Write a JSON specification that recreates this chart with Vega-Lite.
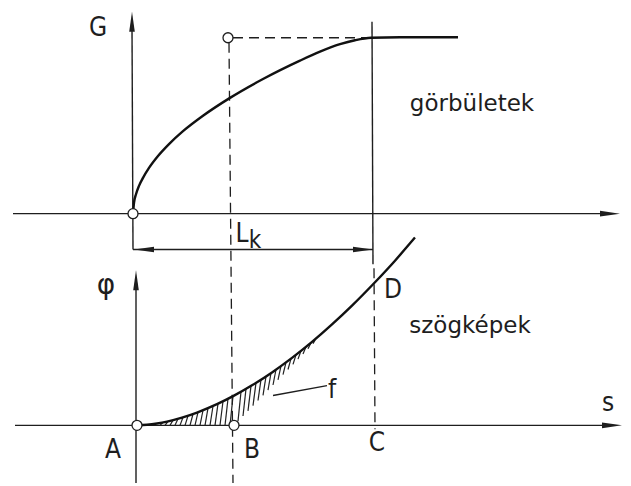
{
  "$schema": "https://vega.github.io/schema/vega-lite/v6.json",
  "autosize": {"type": "fit", "contains": "padding"},
  "width": 631,
  "height": 486,
  "padding": 0,
  "background": "#ffffff",
  "config": {"view": {"stroke": null}},
  "datasets": {
    "axes": [
      {"seg": "G-s", "o": 0, "x": 13, "y": 215}, {"seg": "G-s", "o": 1, "x": 604, "y": 215},
      {"seg": "G", "o": 0, "x": 132, "y": 28}, {"seg": "G", "o": 1, "x": 133, "y": 251},
      {"seg": "phi-s", "o": 0, "x": 15, "y": 428}, {"seg": "phi-s", "o": 1, "x": 606, "y": 428},
      {"seg": "phi", "o": 0, "x": 136, "y": 288}, {"seg": "phi", "o": 1, "x": 136, "y": 486},
      {"seg": "C-top", "o": 0, "x": 372, "y": 22}, {"seg": "C-top", "o": 1, "x": 373, "y": 266},
      {"seg": "Lk", "o": 0, "x": 133, "y": 251}, {"seg": "Lk", "o": 1, "x": 373, "y": 251},
      {"seg": "f-leader", "o": 0, "x": 273, "y": 398}, {"seg": "f-leader", "o": 1, "x": 327, "y": 388}
    ],
    "curves": [
      {"seg": "G(s)", "o": 0, "x": 133, "y": 215},
      {"seg": "G(s)", "o": 1, "x": 134, "y": 204},
      {"seg": "G(s)", "o": 2, "x": 136, "y": 195.5},
      {"seg": "G(s)", "o": 3, "x": 139, "y": 187},
      {"seg": "G(s)", "o": 4, "x": 143, "y": 179},
      {"seg": "G(s)", "o": 5, "x": 149, "y": 169},
      {"seg": "G(s)", "o": 6, "x": 158, "y": 157},
      {"seg": "G(s)", "o": 7, "x": 169, "y": 145},
      {"seg": "G(s)", "o": 8, "x": 183, "y": 132},
      {"seg": "G(s)", "o": 9, "x": 203, "y": 116.5},
      {"seg": "G(s)", "o": 10, "x": 230, "y": 98.5},
      {"seg": "G(s)", "o": 11, "x": 263, "y": 79.5},
      {"seg": "G(s)", "o": 12, "x": 300, "y": 61},
      {"seg": "G(s)", "o": 13, "x": 320, "y": 52},
      {"seg": "G(s)", "o": 14, "x": 340, "y": 44.5},
      {"seg": "G(s)", "o": 15, "x": 355, "y": 40.5},
      {"seg": "G(s)", "o": 16, "x": 371, "y": 38},
      {"seg": "G(s)", "o": 17, "x": 400, "y": 37.5},
      {"seg": "G(s)", "o": 18, "x": 458, "y": 37.5},
      {"seg": "phi(s)", "o": 0, "x": 137, "y": 428},
      {"seg": "phi(s)", "o": 1, "x": 147, "y": 427.4},
      {"seg": "phi(s)", "o": 2, "x": 157, "y": 426.1},
      {"seg": "phi(s)", "o": 3, "x": 167, "y": 424.2},
      {"seg": "phi(s)", "o": 4, "x": 182, "y": 420.2},
      {"seg": "phi(s)", "o": 5, "x": 197, "y": 415.1},
      {"seg": "phi(s)", "o": 6, "x": 217, "y": 406.7},
      {"seg": "phi(s)", "o": 7, "x": 234, "y": 398.1},
      {"seg": "phi(s)", "o": 8, "x": 252, "y": 387.7},
      {"seg": "phi(s)", "o": 9, "x": 272, "y": 374.7},
      {"seg": "phi(s)", "o": 10, "x": 292, "y": 360.1},
      {"seg": "phi(s)", "o": 11, "x": 312, "y": 344},
      {"seg": "phi(s)", "o": 12, "x": 332, "y": 326.4},
      {"seg": "phi(s)", "o": 13, "x": 352, "y": 307.5},
      {"seg": "phi(s)", "o": 14, "x": 375, "y": 284},
      {"seg": "phi(s)", "o": 15, "x": 395, "y": 262.3},
      {"seg": "phi(s)", "o": 16, "x": 415, "y": 239}
    ],
    "dashed": [
      {"seg": "B", "o": 0, "x": 229, "y": 43}, {"seg": "B", "o": 1, "x": 233, "y": 486},
      {"seg": "Gmax", "o": 0, "x": 233, "y": 38}, {"seg": "Gmax", "o": 1, "x": 371, "y": 38},
      {"seg": "C", "o": 0, "x": 374, "y": 270}, {"seg": "C", "o": 1, "x": 375, "y": 432}
    ],
    "hatch": [
      {"x": 160, "y": 428, "x2": 163, "y2": 425},
      {"x": 165, "y": 428, "x2": 168, "y2": 424},
      {"x": 170, "y": 428, "x2": 173, "y2": 422.7},
      {"x": 175, "y": 428, "x2": 178, "y2": 421.4},
      {"x": 180, "y": 428, "x2": 183, "y2": 419.9},
      {"x": 185, "y": 428, "x2": 188, "y2": 418.3},
      {"x": 190, "y": 428, "x2": 193, "y2": 416.6},
      {"x": 195, "y": 428, "x2": 198, "y2": 414.7},
      {"x": 200, "y": 428, "x2": 203, "y2": 412.8},
      {"x": 205, "y": 428, "x2": 208, "y2": 410.7},
      {"x": 210, "y": 428, "x2": 213, "y2": 408.5},
      {"x": 215, "y": 428, "x2": 218, "y2": 406.2},
      {"x": 220, "y": 428, "x2": 223, "y2": 403.7},
      {"x": 225, "y": 428, "x2": 228, "y2": 401.2},
      {"x": 230, "y": 428, "x2": 233, "y2": 398.6},
      {"x": 238, "y": 423.8, "x2": 241, "y2": 394.2},
      {"x": 243, "y": 418.6, "x2": 246, "y2": 391.3},
      {"x": 248, "y": 413.4, "x2": 251, "y2": 388.3},
      {"x": 253, "y": 408.2, "x2": 256, "y2": 385.2},
      {"x": 258, "y": 403, "x2": 261, "y2": 382},
      {"x": 263, "y": 397.8, "x2": 266, "y2": 378.7},
      {"x": 268, "y": 392.6, "x2": 271, "y2": 375.3},
      {"x": 273, "y": 387.4, "x2": 276, "y2": 371.8},
      {"x": 278, "y": 382.2, "x2": 281, "y2": 368.2},
      {"x": 283, "y": 377, "x2": 286, "y2": 364.6},
      {"x": 288, "y": 371.8, "x2": 291, "y2": 360.8},
      {"x": 293, "y": 366.6, "x2": 296, "y2": 356.9},
      {"x": 298, "y": 361.4, "x2": 301, "y2": 352.9},
      {"x": 303, "y": 356.2, "x2": 306, "y2": 348.9},
      {"x": 308, "y": 351, "x2": 311, "y2": 344.8},
      {"x": 313, "y": 345.8, "x2": 316, "y2": 340.5}
    ],
    "arrows": [
      {"x": 610, "y": 215, "dir": "right"},
      {"x": 612, "y": 428, "dir": "right"},
      {"x": 132, "y": 22, "dir": "up"},
      {"x": 136, "y": 282, "dir": "up"},
      {"x": 144, "y": 251, "dir": "left"},
      {"x": 363, "y": 251, "dir": "right"}
    ],
    "nodes": [
      {"x": 133, "y": 215},
      {"x": 228, "y": 38},
      {"x": 137, "y": 428},
      {"x": 234, "y": 428}
    ],
    "labels": [
      {"x": 98, "y": 28, "t": "G"},
      {"x": 242, "y": 235, "t": "L"},
      {"x": 393, "y": 292, "t": "D"},
      {"x": 332, "y": 392, "t": "f"},
      {"x": 608, "y": 405, "t": "s"},
      {"x": 113, "y": 453, "t": "A"},
      {"x": 252, "y": 453, "t": "B"},
      {"x": 377, "y": 446, "t": "C"}
    ],
    "sub": [
      {"x": 255, "y": 242, "t": "k"}
    ],
    "greek": [
      {"x": 106, "y": 288, "t": "φ"}
    ],
    "titles": [
      {"x": 472, "y": 105, "t": "görbületek"},
      {"x": 470, "y": 328, "t": "szögképek"}
    ]
  },
  "encoding": {
    "x": {"field": "x", "type": "quantitative", "scale": {"domain": [0, 631], "nice": false, "zero": false}, "axis": null},
    "y": {"field": "y", "type": "quantitative", "scale": {"domain": [0, 486], "nice": false, "zero": false, "reverse": true}, "axis": null}
  },
  "layer": [
    {
      "data": {"name": "hatch"},
      "mark": {"type": "rule", "color": "#222222", "strokeWidth": 1.2},
      "encoding": {"x2": {"field": "x2"}, "y2": {"field": "y2"}}
    },
    {
      "data": {"name": "axes"},
      "mark": {"type": "line", "color": "#1e1e1e", "strokeWidth": 1.4},
      "encoding": {"detail": {"field": "seg"}, "order": {"field": "o"}}
    },
    {
      "data": {"name": "dashed"},
      "mark": {"type": "line", "color": "#1e1e1e", "strokeWidth": 1.3, "strokeDash": [10, 6]},
      "encoding": {"detail": {"field": "seg"}, "order": {"field": "o"}}
    },
    {
      "data": {"name": "curves"},
      "mark": {"type": "line", "color": "#111111", "strokeWidth": 2.4, "interpolate": "monotone"},
      "encoding": {"detail": {"field": "seg"}, "order": {"field": "o"}}
    },
    {
      "data": {"name": "arrows"},
      "mark": {"type": "point", "filled": true, "color": "#1e1e1e", "size": 400, "opacity": 1},
      "encoding": {
        "shape": {
          "field": "dir",
          "type": "nominal",
          "scale": {
            "domain": ["right", "up", "left"],
            "range": ["M-1,-0.28L1,0L-1,0.28Z", "M-0.28,1L0,-1L0.28,1Z", "M1,-0.28L-1,0L1,0.28Z"]
          },
          "legend": null
        }
      }
    },
    {
      "data": {"name": "nodes"},
      "mark": {"type": "point", "shape": "circle", "filled": false, "fill": "#ffffff", "fillOpacity": 1, "stroke": "#1e1e1e", "strokeWidth": 1.3, "size": 100, "opacity": 1}
    },
    {
      "data": {"name": "labels"},
      "mark": {"type": "text", "font": "DejaVu Sans Condensed", "fontSize": 26, "color": "#1e1e1e", "baseline": "middle", "align": "center"},
      "encoding": {"text": {"field": "t"}}
    },
    {
      "data": {"name": "sub"},
      "mark": {"type": "text", "font": "DejaVu Sans Condensed", "fontSize": 24, "color": "#1e1e1e", "baseline": "middle", "align": "center"},
      "encoding": {"text": {"field": "t"}}
    },
    {
      "data": {"name": "greek"},
      "mark": {"type": "text", "font": "DejaVu Sans", "fontSize": 28, "color": "#1e1e1e", "baseline": "middle", "align": "center"},
      "encoding": {"text": {"field": "t"}}
    },
    {
      "data": {"name": "titles"},
      "mark": {"type": "text", "font": "DejaVu Sans", "fontSize": 23, "color": "#1e1e1e", "baseline": "middle", "align": "center"},
      "encoding": {"text": {"field": "t"}}
    }
  ]
}
